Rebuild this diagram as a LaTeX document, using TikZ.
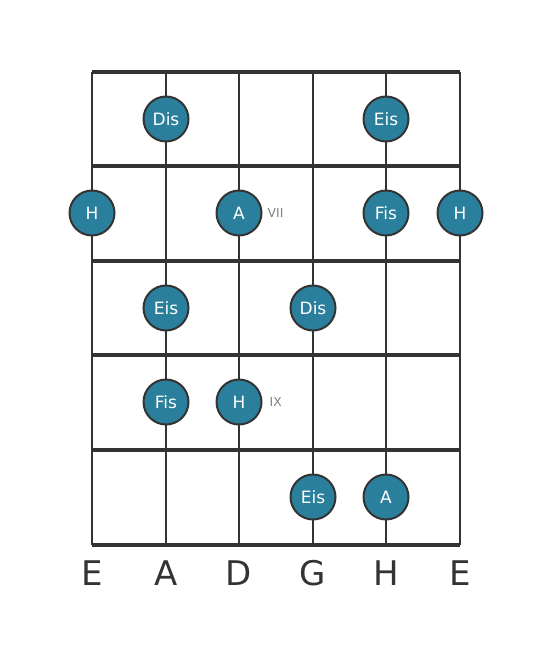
\documentclass[tikz,border=0pt]{standalone}
\usepackage{fontspec}
\setmainfont{DejaVu Sans}
\usepackage{tikz}
\usetikzlibrary{calc}
\definecolor{dotblue}{HTML}{2A7F9C}
\definecolor{gridgray}{HTML}{333333}
\tikzset{tone/.style={circle,fill=dotblue,draw=gridgray,line width=1.7pt,minimum size=45*0.03cm,inner sep=0pt,text=white,font=\fontsize{14.5}{14.5}\selectfont},
         fretnum/.style={text=gray,font=\fontsize{10.5}{10.5}\selectfont,anchor=west,inner sep=0pt},
         stringname/.style={text=gridgray,font=\fontsize{29}{29}\selectfont}}
\newcommand{\fret}[1]{ \draw[gridgray,line width=3.4pt] ( 92 , #1 ) -- ( 460 , #1 );}
\newcommand{\gstring}[1]{ \draw[gridgray,line width=2.3pt] ( #1 , 72 ) -- ( #1 , 545 );}
\newcommand{\tone}[4]{\node[tone] (#1) at ( #2 , #3 ) {#4};}

\begin{document}
\begin{tikzpicture}[x=0.03cm,y=-0.03cm]
        \useasboundingbox (0,0) rectangle (553,656);
        % strings
        \gstring{92}
        \gstring{166}
        \gstring{239}
        \gstring{313}
        \gstring{386}
        \gstring{460}
        % frets
        \fret{72}
        \fret{166}
        \fret{261}
        \fret{355}
        \fret{450}
        \fret{545}
        % row1
        \tone{dis1}{166}{119}{Dis}
        \tone{eis1}{386}{119}{Eis}
        % row2
        \tone{h2}{92}{213}{H}
        \tone{a2}{239}{213}{A}
        \tone{fis2}{386}{213}{Fis}
        \tone{hh2}{460}{213}{H}
        \node[fretnum] (vii) at ($(a2.east)+(5,0)$) {VII};
        % row3
        \tone{eis3}{166}{308}{Eis}
        \tone{dis3}{313}{308}{Dis}
        % row4
        \tone{fis4}{166}{402}{Fis}
        \tone{h4}{239}{402}{H}
        \node[fretnum] (ix) at ($(h4.east)+(7,0)$) {IX};
        % row5
        \tone{eis5}{313}{497}{Eis}
        \tone{a5}{386}{497}{A}
        % string names
        \node[stringname] (sE) at (92,573) {E};
        \node[stringname] (sA) at (166,573) {A};
        \node[stringname] (sD) at (239,573) {D};
        \node[stringname] (sG) at (313,573) {G};
        \node[stringname] (sH) at (386,573) {H};
        \node[stringname] (se) at (460,573) {E};
\end{tikzpicture}
\end{document}
